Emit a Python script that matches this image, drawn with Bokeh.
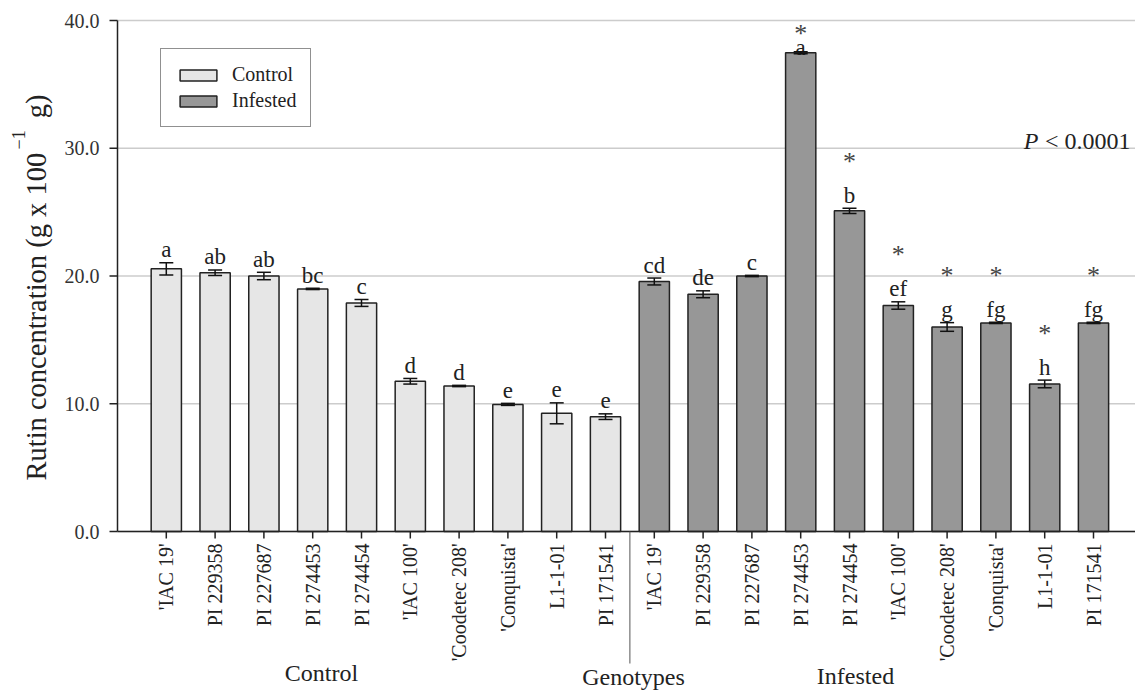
import numpy as np
from bokeh.plotting import figure
from bokeh.models import (ColumnDataSource, Range1d, Whisker, TeeHead,
                          Legend, LegendItem, Label)
from bokeh.core.properties import value
from bokeh.embed import file_html
from bokeh.resources import INLINE

# ---------------- data ----------------
genotypes = ["'IAC 19'", "PI 229358", "PI 227687", "PI 274453", "PI 274454",
             "'IAC 100'", "'Coodetec 208'", "'Conquista'", "L1-1-01", "PI 171541"]
control_mean = [20.56, 20.25, 20.00, 18.99, 17.89, 11.76, 11.39, 9.95, 9.25, 8.99]
control_err = [0.48, 0.22, 0.29, 0.05, 0.27, 0.22, 0.05, 0.08, 0.82, 0.22]
control_letters = ["a", "ab", "ab", "bc", "c", "d", "d", "e", "e", "e"]
infested_mean = [19.57, 18.57, 20.00, 37.48, 25.10, 17.69, 16.01, 16.33, 11.55, 16.33]
infested_err = [0.27, 0.27, 0.05, 0.08, 0.20, 0.29, 0.34, 0.05, 0.30, 0.05]
infested_letters = ["cd", "de", "c", "a", "b", "ef", "g", "fg", "h", "fg"]
infested_signif = [False, False, False, True, True, True, True, True, True, True]
y_ticks = [0, 10, 20, 30, 40]
y_tick_labels = ["0.0", "10.0", "20.0", "30.0", "40.0"]
group_labels = ["Control", "Genotypes", "Infested"]
y_title_parts = ["Rutin concentration (g x 100", "\u22121", " g)"]
p_text = "< 0.0001"

# ---------------- layout / style ----------------
FONT = "Liberation Serif"
W, H = 1135, 693
LEFT, TOP, BOTTOM = 117, 20, 531      # frame of the bar area in canvas px
SX = 48.8                             # px per category step
SY = (BOTTOM - TOP) / 40.0            # px per data unit
n = len(genotypes)
x_ctrl = np.arange(1, n + 1)
x_inf = np.arange(n + 1, 2 * n + 1)
x_all = np.concatenate([x_ctrl, x_inf])
X_END = (W - LEFT) / SX

def dx(px):
    return px / SX

def dy(px):
    return px / SY

def sx(px_abs):       # absolute canvas x -> data x
    return (px_abs - LEFT) / SX

def sy(py_abs):       # absolute canvas y -> data y
    return (BOTTOM - py_abs) / SY

def make_src(xs, mean, err, letters):
    mean = np.array(mean); err = np.array(err)
    letter_y = np.minimum(mean + err + dy(13), 37.9)
    return ColumnDataSource(dict(x=xs, top=mean, upper=mean + err, lower=mean - err,
                                 letters=letters, ly=letter_y))

src_c = make_src(x_ctrl, control_mean, control_err, control_letters)
src_i = make_src(x_inf, infested_mean, infested_err, infested_letters)

p = figure(width=W, height=H, output_backend="svg", toolbar_location=None,
           x_range=Range1d(-dx(LEFT), X_END),
           y_range=Range1d(-dy(H - BOTTOM), 40 + dy(TOP)),
           x_axis_location=None, y_axis_location=None,
           min_border_left=0, min_border_right=0, min_border_top=0, min_border_bottom=0)
p.outline_line_color = None
p.background_fill_color = "white"
p.border_fill_color = "white"
p.grid.visible = False

# grid lines
yt = np.array(y_ticks, dtype=float)
p.segment(x0=[0] * len(yt), y0=yt, x1=[X_END] * len(yt), y1=yt,
          line_color="#cccccc", line_width=1.5)

# bars
r_c = p.vbar(x="x", top="top", bottom=0, width=0.62, source=src_c,
             fill_color="#e6e6e6", line_color="#222222", line_width=1.5)
r_i = p.vbar(x="x", top="top", bottom=0, width=0.62, source=src_i,
             fill_color="#979797", line_color="#222222", line_width=1.5)

for src in (src_c, src_i):
    w = Whisker(source=src, base="x", upper="upper", lower="lower",
                line_color="#111111", line_width=1.5, level="overlay",
                upper_head=TeeHead(size=14, line_width=1.5, line_color="#111111"),
                lower_head=TeeHead(size=14, line_width=1.5, line_color="#111111"))
    p.add_layout(w)
    p.text(x="x", y="ly", text="letters", source=src, text_font=value(FONT),
           text_font_size="23px", text_align="center", text_baseline="alphabetic",
           text_color="#222222")

# asterisks
sig_idx = [i for i, s in enumerate(infested_signif) if s]
ly_i = np.array(src_i.data["ly"])
ast_src = ColumnDataSource(dict(x=x_inf[sig_idx],
                                y=np.minimum(ly_i[sig_idx] + dy(34), 39.0),
                                t=["*"] * len(sig_idx)))
p.text(x="x", y="y", text="t", source=ast_src, text_font=value(FONT),
       text_font_size="26px", text_align="center", text_baseline="alphabetic",
       text_color="#444444")

# x axis (line, ticks, rotated category labels)
p.segment(x0=[0], y0=[0], x1=[X_END], y1=[0], line_color="#222222", line_width=1.5)
p.segment(x0=x_all, y0=0, x1=x_all, y1=-dy(7), line_color="#222222", line_width=1.5)
p.text(x=x_all, y=[-dy(12)] * len(x_all), text=genotypes + genotypes, angle=np.pi / 2,
       text_align="right", text_baseline="middle", text_font=value(FONT),
       text_font_size="20px", text_color="#222222")

# y axis (line, ticks, labels)
p.segment(x0=[0], y0=[0], x1=[0], y1=[40], line_color="#222222", line_width=1.5)
p.segment(x0=[0] * len(yt), y0=yt, x1=[-dx(8)] * len(yt), y1=yt,
          line_color="#222222", line_width=1.5)
p.text(x=[-dx(18)] * len(yt), y=yt, text=y_tick_labels, text_align="right",
       text_baseline="middle", text_font=value(FONT), text_font_size="20px",
       text_color="#333333")

# y axis title with superscript
p.text(x=[sx(36)], y=[sy(480)], text=[y_title_parts[0]], angle=np.pi / 2,
       text_align="left", text_baseline="middle", text_font=value(FONT),
       text_font_size="28.5px", text_color="#222222")
p.text(x=[sx(18)], y=[sy(149)], text=[y_title_parts[1]], angle=np.pi / 2,
       text_align="left", text_baseline="middle", text_font=value(FONT),
       text_font_size="18px", text_color="#222222")
p.text(x=[sx(36)], y=[sy(87)], text=[y_title_parts[2]], angle=np.pi / 2,
       text_align="right", text_baseline="middle", text_font=value(FONT),
       text_font_size="28.5px", text_color="#222222")

# legend
legend = Legend(items=[LegendItem(label="Control", renderers=[r_c]),
                       LegendItem(label="Infested", renderers=[r_i])],
                location=(160, H - 127), glyph_width=46, glyph_height=14,
                label_text_font=FONT, label_text_font_size="20px", label_text_color="#222222",
                label_standoff=11, label_height=20, spacing=3, padding=14, margin=0,
                border_line_color="#222222", border_line_width=1.5,
                background_fill_color="white", background_fill_alpha=1.0)
p.add_layout(legend)

# P value
P_X, P_Y = sx(1130), 30.6
p.add_layout(Label(x=P_X, y=P_Y, text=p_text, text_align="right", text_baseline="alphabetic",
                   text_font=FONT, text_font_size="24px", text_color="#222222"))
p.add_layout(Label(x=P_X, y=P_Y, x_offset=-92, text="P", text_align="right",
                   text_baseline="alphabetic", text_font=FONT, text_font_size="24px",
                   text_font_style="italic", text_color="#222222"))

# group labels and separator
grp_x = [sx(321), sx(633), sx(855)]
grp_y = [-dy(141), -dy(145), -dy(144)]
p.text(x=grp_x, y=grp_y, text=group_labels, text_align="center", text_baseline="alphabetic",
       text_font=value(FONT), text_font_size="24px", text_color="#222222")
p.segment(x0=[n + 0.5], y0=[0], x1=[n + 0.5], y1=[-dy(132)], line_color="#555555", line_width=1)

open("out.html", "w").write(file_html(p, INLINE))
